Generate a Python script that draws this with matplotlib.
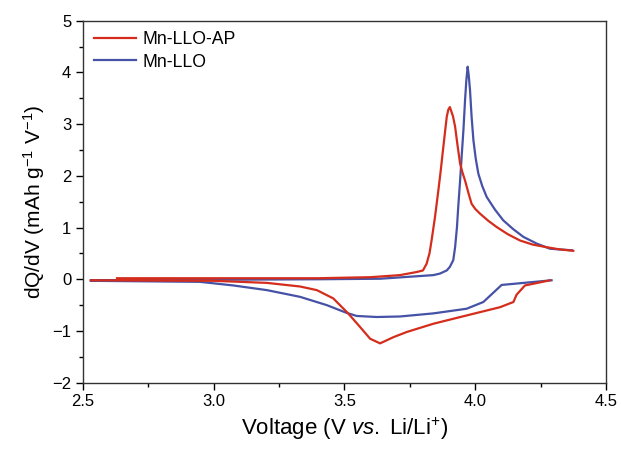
import numpy as np
import matplotlib.pyplot as plt
from matplotlib.ticker import MultipleLocator

plt.rcParams['font.family'] = ['Liberation Sans', 'DejaVu Sans']
plt.rcParams['mathtext.fontset'] = 'custom'
plt.rcParams['mathtext.rm'] = 'Liberation Sans'
plt.rcParams['mathtext.it'] = 'Liberation Sans:italic'

# Mn-LLO-AP: charge branch, then discharge branch (None splits them)
ap_v = [2.63, 3.00, 3.40, 3.60, 3.712, 3.776, 3.80, 3.814, 3.825, 3.833, 3.846, 3.859,
        3.868, 3.878, 3.891, 3.897, 3.903, 3.915, 3.923, 3.932, 3.942, 3.952, 3.961,
        3.975, 3.986, 4.000, 4.018, 4.050, 4.082, 4.125, 4.171, 4.220, 4.273, 4.320, 4.375,
        None,
        4.286, 4.19, 4.158, 4.146, 4.095, 3.967, 3.84, 3.738, 3.687, 3.636, 3.598,
        3.559, 3.514, 3.457, 3.394, 3.33, 3.203, 3.00, 2.53]
ap_q = [0.02, 0.02, 0.02, 0.04, 0.08, 0.14, 0.17, 0.30, 0.50, 0.75, 1.20, 1.72,
        2.10, 2.56, 3.14, 3.28, 3.33, 3.15, 2.95, 2.60, 2.24, 2.05, 1.91,
        1.65, 1.46, 1.36, 1.27, 1.13, 1.01, 0.87, 0.75, 0.67, 0.62, 0.58, 0.55,
        None,
        -0.02, -0.12, -0.30, -0.44, -0.54, -0.70, -0.86, -1.02, -1.12, -1.24, -1.15,
        -0.92, -0.66, -0.37, -0.21, -0.14, -0.07, -0.03, -0.02]

# Mn-LLO
llo_v = [2.53, 3.00, 3.40, 3.636, 3.84, 3.865, 3.891, 3.903, 3.916, 3.923, 3.930, 3.935,
         3.942, 3.948, 3.955, 3.961, 3.966, 3.971, 3.975, 3.980, 3.986, 3.993, 4.002,
         4.012, 4.027, 4.044, 4.075, 4.107, 4.145, 4.184, 4.235, 4.286, 4.37,
         None,
         4.292, 4.101, 4.031, 3.967, 3.84, 3.712, 3.623, 3.547, 3.508, 3.432, 3.33,
         3.203, 3.075, 2.947, 2.53]
llo_q = [-0.02, -0.01, 0.0, 0.01, 0.08, 0.11, 0.17, 0.24, 0.37, 0.62, 1.00, 1.40,
         1.90, 2.37, 2.90, 3.46, 3.85, 4.11, 3.95, 3.66, 3.15, 2.69, 2.33,
         2.04, 1.80, 1.59, 1.35, 1.14, 0.97, 0.82, 0.69, 0.59, 0.56,
         None,
         -0.02, -0.11, -0.44, -0.57, -0.66, -0.72, -0.73, -0.71, -0.65, -0.50, -0.34,
         -0.21, -0.12, -0.05, -0.03]


def to_arr(vals):
    return np.array([np.nan if v is None else v for v in vals], dtype=float)


fig = plt.figure(figsize=(6.21, 4.5), dpi=100)
ax = fig.add_axes([0.1337, 0.1496, 0.8421, 0.8044])

ax.plot(to_arr(llo_v), to_arr(llo_q), color='#4652a6', lw=1.6, label='Mn-LLO')
ax.plot(to_arr(ap_v), to_arr(ap_q), color='#d42d1c', lw=1.6, label='Mn-LLO-AP')

ax.set_xlim(2.5, 4.5)
ax.set_ylim(-2, 5)
ax.xaxis.set_major_locator(MultipleLocator(0.5))
ax.xaxis.set_minor_locator(MultipleLocator(0.25))
ax.yaxis.set_major_locator(MultipleLocator(1))
ax.yaxis.set_minor_locator(MultipleLocator(0.5))
ax.xaxis.set_major_formatter(plt.FuncFormatter(lambda v, p: f'{v:.1f}'))
ax.yaxis.set_major_formatter(plt.FuncFormatter(lambda v, p: f'{v:.0f}'.replace('-', '\u2212')))
ax.tick_params(which='major', direction='out', length=5, width=1, labelsize=12)
ax.tick_params(which='minor', direction='out', length=3, width=1)
ax.tick_params(top=False, right=False)
for s in ax.spines.values():
    s.set_linewidth(1.0)
    s.set_color('#333333')

ax.set_xlabel(r'Voltage (V $\it{vs.}$ Li/Li$^{+}$)', fontsize=16)
ax.set_ylabel(r'dQ/dV (mAh g$^{-1}$ V$^{-1}$)', fontsize=15)

h, l = ax.get_legend_handles_labels()
ax.legend(h[::-1], l[::-1], loc='upper left', frameon=False, fontsize=12.7,
          handlelength=2.4, handletextpad=0.35, borderaxespad=0.2, labelspacing=0.3)

plt.savefig('out.png', dpi=100)
